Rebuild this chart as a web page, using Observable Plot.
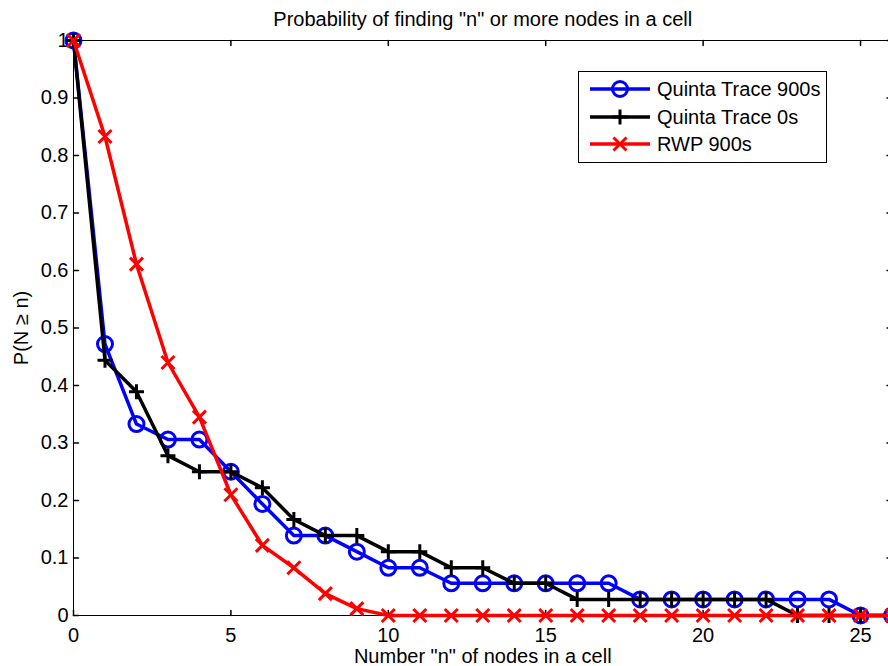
<!DOCTYPE html>
<html><head><meta charset="utf-8">
<script src="https://cdn.jsdelivr.net/npm/d3@7"></script>
<script src="https://cdn.jsdelivr.net/npm/@observablehq/plot@0.6"></script>
<style>
html,body{margin:0;padding:0;overflow:hidden;background:#fff;}
#chart svg{overflow:hidden;display:block;}
</style></head><body><div id="chart"></div>
<script>
// ---- data ----
const nValues   = [0,1,2,3,4,5,6,7,8,9,10,11,12,13,14,15,16,17,18,19,20,21,22,23,24,25,26];
const quinta900 = [1,0.472,0.333,0.306,0.306,0.25,0.194,0.139,0.139,0.111,0.083,0.083,0.056,0.056,0.056,0.056,0.056,0.056,0.028,0.028,0.028,0.028,0.028,0.028,0.028,0,0];
const quinta0   = [1,0.444,0.389,0.278,0.25,0.25,0.222,0.167,0.139,0.139,0.111,0.111,0.083,0.083,0.056,0.056,0.028,0.028,0.028,0.028,0.028,0.028,0.028,0,0,0,0];
const rwp900    = [1,0.833,0.611,0.44,0.345,0.21,0.122,0.083,0.038,0.012,0,0,0,0,0,0,0,0,0,0,0,0,0,0,0,0,0];
const seriesNames = ["Quinta Trace 900s","Quinta Trace 0s","RWP 900s"];
const seriesColors = ["#0000ff","#000000","#ff0000"];
const xTicks = [0,5,10,15,20,25];
const yTicks = [0,0.1,0.2,0.3,0.4,0.5,0.6,0.7,0.8,0.9,1];
const yTickLabels = ["0","0.1","0.2","0.3","0.4","0.5","0.6","0.7","0.8","0.9","1"];
const titleText = 'Probability of finding "n" or more nodes in a cell';
const xLabel = 'Number "n" of nodes in a cell';
const yLabel = 'P(N \u2265 n)';

// ---- symbols ----
const circleSym = {draw(ctx, size){const r=Math.sqrt(size/Math.PI); ctx.moveTo(r,0); ctx.arc(0,0,r,0,2*Math.PI);}};
const plusSym = {draw(ctx, size){const r=Math.sqrt(size/Math.PI); ctx.moveTo(-r,0); ctx.lineTo(r,0); ctx.moveTo(0,-r); ctx.lineTo(0,r);}};
const timesSym = {draw(ctx, size){const r=Math.sqrt(size/Math.PI); ctx.moveTo(-r,-r); ctx.lineTo(r,r); ctx.moveTo(-r,r); ctx.lineTo(r,-r);}};
const symbols = [circleSym, plusSym, timesSym];
const symR = [7.5, 7.5, 6.5];
const tickShape = {draw(ctx, l){ctx.moveTo(0,0); ctx.lineTo(0,-l);}};

const seriesValues = [quinta900, quinta0, rwp900];
const seriesRows = seriesValues.map(vals => nValues.map((n,i)=>({n, p: vals[i]})));

const font = "'Liberation Sans', Arial, Helvetica, sans-serif";
const fs = 20;

const marks = [
  Plot.ruleY([0,1], {stroke:"black", strokeWidth:1}),
  Plot.ruleX([0,26], {stroke:"black", strokeWidth:1}),
  Plot.vector(xTicks, {x: d=>d, y: ()=>0, length:5, rotate:0, anchor:"start", shape:tickShape, stroke:"black"}),
  Plot.vector(xTicks, {x: d=>d, y: ()=>1, length:5, rotate:180, anchor:"start", shape:tickShape, stroke:"black"}),
  Plot.vector(yTicks, {x: ()=>0, y: d=>d, length:5, rotate:90, anchor:"start", shape:tickShape, stroke:"black"}),
  Plot.vector(yTicks, {x: ()=>26, y: d=>d, length:5, rotate:270, anchor:"start", shape:tickShape, stroke:"black"}),
  Plot.axisX({ticks: xTicks, tickSize:0, tickPadding:12, label:null, fontSize:fs}),
  Plot.axisY({ticks: yTicks, tickSize:0, tickPadding:5, label:null, fontSize:fs, tickFormat: (d,i)=>yTickLabels[i]}),
  Plot.text([titleText], {x:()=>13, y:()=>1, dy:-15, lineAnchor:"bottom", fontSize:fs}),
  Plot.text([xLabel], {x:()=>13, y:()=>0, dy:47, lineAnchor:"bottom", fontSize:fs}),
  Plot.text([yLabel], {x:()=>0, y:()=>0.5, dx:-46, rotate:-90, lineAnchor:"bottom", fontSize:fs})
];
seriesRows.forEach((rows, k) => {
  marks.push(Plot.line(rows, {x:"n", y:"p", stroke: seriesColors[k], strokeWidth:3.5}));
  marks.push(Plot.dot(rows, {x:"n", y:"p", symbol: symbols[k], r: symR[k], stroke: seriesColors[k], strokeWidth:3, fill:"none"}));
});

const chart = Plot.plot({
  width: 888, height: 666,
  marginTop: 40, marginBottom: 51, marginLeft: 73, marginRight: 0,
  x: {domain:[0,26], range:[73, 891.5]},
  y: {domain:[0,1], range:[615, 40]},
  style: {fontFamily: font, fontSize: fs+"px", color:"black", background:"white"},
  marks
});
document.getElementById("chart").appendChild(chart);

// ---- legend ----
const svg = d3.select(chart);
const lg = svg.append("g").attr("font-family", font).attr("font-size", fs).attr("text-anchor","start");
lg.append("rect").attr("x",578.5).attr("y",71.5).attr("width",248).attr("height",91)
  .attr("fill","white").attr("stroke","black").attr("stroke-width",1);
const rowY = [89, 117, 144];
seriesNames.forEach((name, k) => {
  const y = rowY[k];
  lg.append("line").attr("x1",590).attr("x2",650).attr("y1",y).attr("y2",y)
    .attr("stroke", seriesColors[k]).attr("stroke-width",3.5);
  lg.append("path").attr("transform",`translate(620,${y})`)
    .attr("d", d3.symbol(symbols[k], Math.PI*symR[k]*symR[k])())
    .attr("fill","none").attr("stroke",seriesColors[k]).attr("stroke-width",3);
  lg.append("text").attr("x",657).attr("y",y).attr("dy","0.35em").attr("fill","black")
    .attr("text-anchor","start").text(name);
});
</script></body></html>
